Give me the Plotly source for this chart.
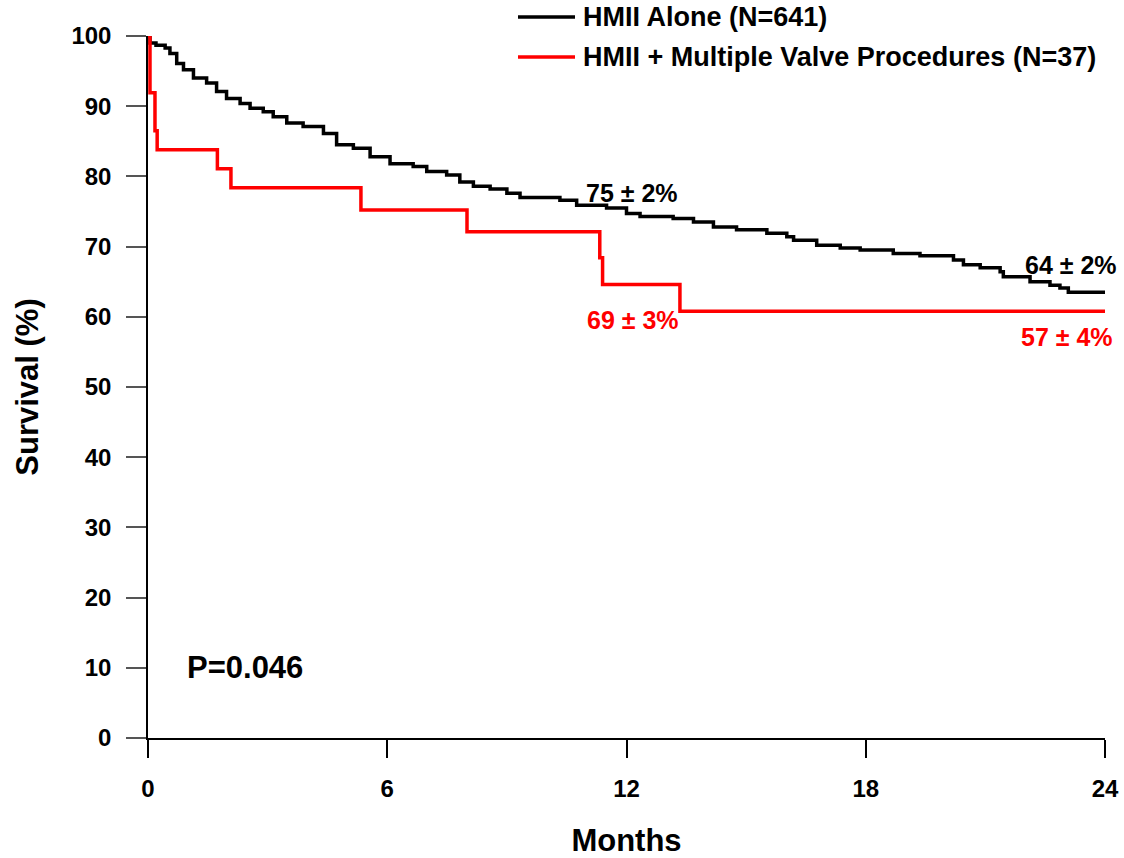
import plotly.graph_objects as go

# HMII Alone (N=641) Kaplan-Meier estimate (months, survival %)
black_t = [0, 0.05, 0.2, 0.43, 0.55, 0.72, 0.89, 1.14, 1.47, 1.72, 1.97, 2.31, 2.56, 2.89, 3.14,
           3.48, 3.89, 4.40, 4.73, 5.15, 5.57, 6.07, 6.65, 6.99, 7.49, 7.82, 8.16, 8.58, 9.0,
           9.33, 10.33, 10.75, 11.5, 12.0, 12.34, 13.17, 13.68, 14.18, 14.76, 15.52, 16.02,
           16.19, 16.77, 17.36, 17.86, 18.69, 19.36, 20.2, 20.45, 20.87, 21.37, 21.45, 22.12,
           22.62, 22.87, 23.08, 24]
black_s = [100, 99.0, 98.7, 98.3, 97.5, 96.1, 95.2, 94.0, 93.3, 92.1, 91.1, 90.4, 89.7, 89.2, 88.5,
           87.6, 87.1, 86.1, 84.5, 84.0, 82.8, 81.8, 81.4, 80.7, 80.2, 79.2, 78.6, 78.2, 77.6,
           77.0, 76.6, 75.9, 75.5, 74.7, 74.3, 74.0, 73.5, 72.8, 72.4, 71.9, 71.4,
           70.9, 70.2, 69.8, 69.5, 69.0, 68.7, 68.1, 67.4, 67.0, 66.4, 65.7, 65.0,
           64.5, 64.1, 63.5, 63.5]

# HMII + Multiple Valve Procedures (N=37)
red_t = [0, 0.05, 0.175, 0.23, 1.74, 2.08, 5.34, 8.0, 11.33, 11.4, 13.34, 24]
red_s = [100, 91.9, 86.5, 83.8, 81.1, 78.4, 75.2, 72.1, 68.4, 64.6, 60.8, 60.8]

series_names = ["HMII Alone (N=641)", "HMII + Multiple Valve Procedures (N=37)"]
series_colors = ["#000000", "#ff0000"]

x_ticks = [0, 6, 12, 18, 24]
y_ticks = [0, 10, 20, 30, 40, 50, 60, 70, 80, 90, 100]

# annotations: (x, y, text, color)
labels = [
    (12.14, 77.6, "75 ± 2%", "#000000"),
    (23.15, 67.4, "64 ± 2%", "#000000"),
    (12.16, 59.5, "69 ± 3%", "#ff0000"),
    (23.05, 57.1, "57 ± 4%", "#ff0000"),
]
p_text = "P=0.046"

FONT = "Liberation Sans, Arial, sans-serif"

fig = go.Figure()
fig.add_trace(go.Scatter(x=black_t, y=black_s, mode="lines", line=dict(color=series_colors[0], width=3.5, shape="hv"),
                         name=series_names[0], showlegend=False))
fig.add_trace(go.Scatter(x=red_t, y=red_s, mode="lines", line=dict(color=series_colors[1], width=3.5, shape="hv"),
                         name=series_names[1], showlegend=False))

annotations = []
for x, y, t, c in labels:
    annotations.append(dict(x=x, y=y, xref="x", yref="y", text="<b>%s</b>" % t, showarrow=False,
                            font=dict(family=FONT, size=25, color=c)))
annotations.append(dict(x=0.93, y=10.1, xref="x", yref="y", text="<b>%s</b>" % p_text, showarrow=False,
                        xanchor="left", font=dict(family=FONT, size=31, color="#000000")))

# custom legend (paper coordinates)
W, H = 1124, 858
L, R, T, B = 148, 19, 36, 120
pw, ph = W - L - R, H - T - B
def px(xp):
    return (xp - L) / pw
def py(yp):
    return (H - B - yp) / ph

shapes = []
for i, (nm, col) in enumerate(zip(series_names, series_colors)):
    yy = 17 + 40 * i
    shapes.append(dict(type="line", xref="paper", yref="paper", x0=px(518), x1=px(575), y0=py(yy), y1=py(yy),
                       line=dict(color=col, width=3.5)))
    annotations.append(dict(x=px(581), y=py(yy), xref="paper", yref="paper", text="<b>%s</b>" % nm,
                            showarrow=False, xanchor="left", yanchor="middle",
                            font=dict(family=FONT, size=27, color="#000000")))

fig.update_layout(
    width=W, height=H,
    margin=dict(l=L, r=R, t=T, b=B, pad=0),
    paper_bgcolor="white", plot_bgcolor="white",
    showlegend=False,
    annotations=annotations,
    shapes=shapes,
    font=dict(family=FONT, color="#000000"),
)
fig.update_xaxes(range=[0, 24], tickvals=x_ticks, ticktext=["<b>%d</b>" % v for v in x_ticks],
                 ticks="outside", ticklen=18, tickwidth=1.5, tickcolor="#000000", automargin=False,
                 showline=True, linecolor="#000000", linewidth=1.5, showgrid=False, zeroline=False,
                 tickfont=dict(family=FONT, size=24, color="#000000"), ticklabelstandoff=10,
                 title=dict(text="<b>Months</b>", font=dict(family=FONT, size=31), standoff=32))
fig.update_yaxes(range=[0, 100], tickvals=y_ticks, ticktext=["<b>%d</b>" % v for v in y_ticks],
                 ticks="outside", ticklen=20, tickwidth=1.5, tickcolor="#555555", automargin=False,
                 showline=True, linecolor="#000000", linewidth=1.5, showgrid=False, zeroline=False,
                 tickfont=dict(family=FONT, size=24, color="#000000"), ticklabelstandoff=10,
                 title=dict(text="<b>Survival (%)</b>", font=dict(family=FONT, size=31), standoff=24))

fig.write_html("out.html")
